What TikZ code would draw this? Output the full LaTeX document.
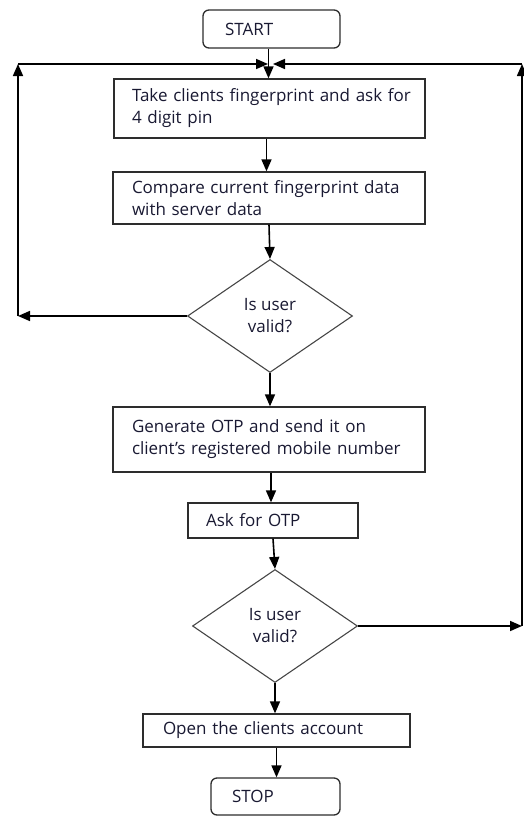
\documentclass[tikz,border=0pt]{standalone}
\usepackage{fontspec}
\setmainfont{Open Sans}
\usetikzlibrary{arrows.meta,shapes.geometric}
\definecolor{textc}{RGB}{25,25,50}
\definecolor{framec}{RGB}{45,45,45}
\definecolor{diamc}{RGB}{70,70,70}
\begin{document}
\begin{tikzpicture}[x=1pt,y=-1pt,
  txt/.style={font=\fontsize{17}{22}\selectfont,text=textc},
  box/.style={txt,draw=framec,line width=1.3pt,rectangle,inner ysep=0pt,align=left},
  term/.style={box,rounded corners=6pt},
  decision/.style={txt,draw=diamc,line width=1.1pt,diamond,inner sep=0pt,align=center,
    minimum width=165pt,minimum height=113pt},
  arr/.style={line width=1.6pt,draw=black,-{Triangle[length=12pt,width=10pt]}}
]
\path[use as bounding box] (0,0) rectangle (524,816);

\node[term,text width=93pt,inner xsep=22pt,minimum height=38pt] (start) at (271.5,29) {START};
\node[box,text width=275pt,inner xsep=18pt,minimum height=59pt] (b1) at (269.5,108.5)
  {\mbox{Take clients fingerprint and ask for}\\4 digit pin};
\node[box,text width=274pt,inner xsep=19pt,minimum height=52pt] (b2) at (269,198)
  {\mbox{Compare current fingerprint data}\\with server data};
\node[decision] (d1) at (270,316) {Is user\\valid?};
\node[box,text width=274pt,inner xsep=19pt,minimum height=65pt] (b3) at (269,439.5)
  {\mbox{Generate OTP and send it on}\\\mbox{client’s registered mobile number}};
\node[box,text width=134pt,inner xsep=18pt,minimum height=35pt] (b4) at (273,520.5) {Ask for OTP};
\node[decision] (d2) at (275,626) {Is user\\valid?};
\node[box,text width=227pt,inner xsep=20pt,minimum height=33pt] (b5) at (276.5,730.5)
  {\mbox{Open the clients account}};
\node[term,text width=87pt,inner xsep=21pt,minimum height=37pt] (stop) at (275.5,796.5) {STOP};

\coordinate (L1) at (18,316);
\coordinate (LT) at (18,64);
\coordinate (JL) at (268,64);
\coordinate (JR) at (273,64);
\coordinate (RT) at (522,64);
\coordinate (R1) at (522,626);

\draw[arr] ([xshift=-3pt]start.south) -- ([xshift=-3pt]start.south |- b1.north);
\draw[arr] ([xshift=-3pt]b1.south) -- ([xshift=-3pt]b1.south |- b2.north);
\draw[arr] (b2.south) -- (d1.north);
\draw[arr] (d1.south) -- (d1.south |- b3.north);
\draw[arr] ([xshift=2pt]b3.south) -- ([xshift=2pt]b3.south |- b4.north);
\draw[arr] (b4.south) -- (d2.north);
\draw[arr] (d2.south) -- (d2.south |- b5.north);
\draw[arr] (b5.south) -- (b5.south |- stop.north);

\draw[arr] (d1.west) -- (L1);
\draw[arr] (L1) -- (LT);
\draw[arr] (LT) -- (JL);
\draw[arr] (d2.east) -- (R1);
\draw[arr] (R1) -- (RT);
\draw[arr] (RT) -- (JR);
\end{tikzpicture}
\end{document}
